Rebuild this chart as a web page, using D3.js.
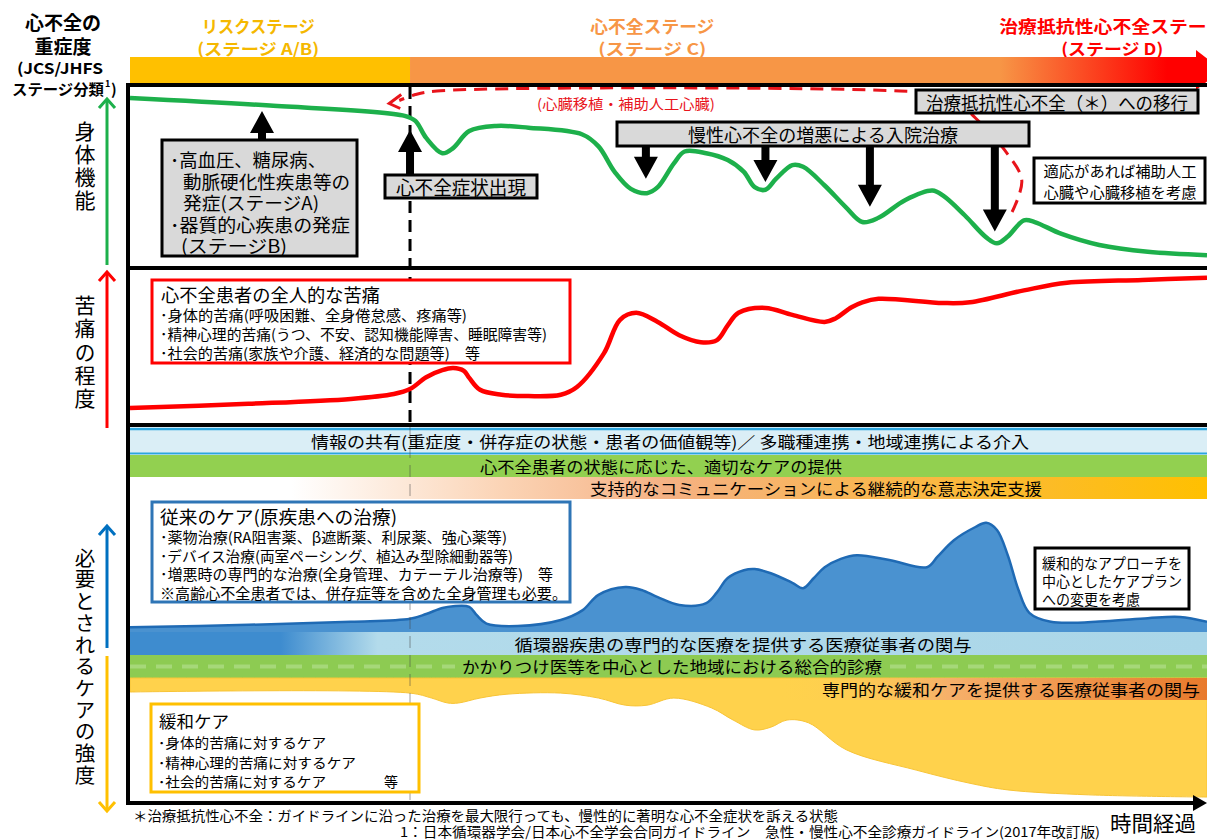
<!DOCTYPE html>
<html>
<head>
<meta charset="utf-8">
<title>心不全とそのリスクの進展ステージ</title>
<style>
  body { margin: 0; background: #fff; }
  svg text { font-family: "Noto Sans CJK JP", "Noto Sans", sans-serif; }
</style>
</head>
<body>
<script src="https://cdn.jsdelivr.net/npm/d3@7"></script>
<script>
// ---- data (time axis 0-100, each panel's level 0-100) ----
var physT = [0,13,25.5,26.5,27.5,29,30,31.5,34,37,42,43.5,45,46.5,48,49,50.5,51.5,53.5,55.5,57,58,59,60,61.5,62.5,64.5,66.5,68,69.5,72,74.5,75.5,77.5,79.5,80.5,81.5,83,84,86.5,90,94.5,100];
var physV = [96.5,92,86,83,73,64,67,77,80,79,75,68,53,43,40.5,44,58,65,64,60,53,44,42.5,49,57,56,45,32,23.5,26,36.5,42,39,27.5,14.5,11,15,24.5,23.5,16.5,10,6,4];

var painT = [0,11,20.5,24.5,26,27.5,29,30,31,31.5,32.5,34.5,37,40,41.5,44,45.5,47,49,51,53,54.5,55.5,56.5,59,61.5,64.5,65.5,67,68,69.5,75.5,78,83,87,94,100];
var painV = [5,8,11.5,15,18.5,27,32,33.5,31.5,26.5,18,14.5,13.5,14.5,20,44,68,73,66.5,57,52,53.5,64,73,76.5,71.5,66.5,69,77,80.5,83,80,80.5,89,94.5,96.5,98];

var careT = [0,11,20.5,26,27.5,29,30,31.5,32.2,33.1,36,40,42,43.5,46,47.5,49,51,53.5,54.5,55.5,57,58,59.5,61.5,62.5,63.5,64.5,66,67.5,70.5,74,75,76.5,78.5,79.5,80.5,81.5,82.5,83.5,85.5,90.5,94.5,97.5,100];
var careV = [4,6,8.5,11,15,20,21.5,21,14,7,5,10,18,31,37.5,35,29,22.5,24,33,45,51.5,52.5,49,41,36.5,45,54,61,64,60,54,63,76.5,87.5,91,85,64,35,16,8.5,9,11.5,12.5,8.5];

var palT = [0,26,28,29.5,30.5,32.5,35,40,43.5,46,48,50.5,54,56,58,59.5,61,63,66.5,73,78,81.5,89,100];
var palV = [0,1,5.5,10,10,5.5,2,1,5.5,12,12,5.5,14.5,25.5,34.5,32,25.5,28,52.5,71,83,89,93.5,95.5];

var stageNames = ["リスクステージ", "心不全ステージ", "治療抵抗性心不全ステージ"];
var stageSubs = ["(ステージ A/B)", "(ステージ C)", "(ステージ D)"];
var stageLabelT = [11.9, 48.5, 91.2];
var stageColors = ["#F5B800", "#F79646", "#FF0000"];
var onsetT = 26;   // 心不全症状出現

var hospT = [47.9, 59, 68.7, 80.3];      // 入院治療
var hospTip = [49, 47, 32.5, 18];

var transT = [81.9, 82.8, 81.2, 78.5, 76.1, 71.5, 28.5, 26.5, 25];
var transV = [29.4, 48.2, 65.9, 84.7, 97.6, 100.6, 100.6, 98.5, 95];

// ---- setup ----
var W = 1207, H = 840;
var svg = d3.select("body").append("svg").attr("width", W).attr("height", H);
var defs = svg.append("defs");

var x = d3.scaleLinear().domain([0, 100]).range([130, 1207]);
var yPhys = d3.scaleLinear().domain([0, 100]).range([262, 92]);
var yPain = d3.scaleLinear().domain([0, 100]).range([415, 275]);
var yCare = d3.scaleLinear().domain([0, 100]).range([632, 512]);
var yPal = d3.scaleLinear().domain([0, 100]).range([692, 802]);

function zip(a, b) { return a.map(function (d, i) { return [d, b[i]]; }); }

function txt(px, py, s, size, o) {
  o = o || {};
  var t = svg.append("text")
    .attr("x", px).attr("y", py)
    .attr("dominant-baseline", "central")
    .attr("font-size", size)
    .attr("fill", o.fill || "#000")
    .attr("font-weight", o.bold ? "bold" : "normal")
    .attr("text-anchor", o.anchor || "start")
    .text(s);
  if (o.len) t.attr("textLength", o.len).attr("lengthAdjust", "spacingAndGlyphs");
  return t;
}

function grad(id, x1, x2, stops) {
  var g = defs.append("linearGradient").attr("id", id)
    .attr("gradientUnits", "userSpaceOnUse")
    .attr("x1", x1).attr("x2", x2).attr("y1", 0).attr("y2", 0);
  stops.forEach(function (s) {
    g.append("stop").attr("offset", s[0]).attr("stop-color", s[1])
      .attr("stop-opacity", s[2] == null ? 1 : s[2]);
  });
}

function blockArrow(xc, yFrom, yTip) {
  var dir = yTip < yFrom ? -1 : 1;
  var hl = 22, hw = 12, sw = 4;
  var yb = yTip - dir * hl;
  var pts = [[xc - sw, yFrom], [xc - sw, yb], [xc - hw, yb], [xc, yTip], [xc + hw, yb], [xc + sw, yb], [xc + sw, yFrom]];
  svg.append("path").attr("d", d3.line()(pts) + "Z").attr("fill", "#000");
}

function sideArrow(yFrom, yTip, color) {
  var dir = yTip < yFrom ? -1 : 1;
  svg.append("line").attr("x1", 107).attr("x2", 107).attr("y1", yFrom).attr("y2", yTip)
    .attr("stroke", color).attr("stroke-width", 3);
  svg.append("path")
    .attr("d", "M" + 99 + "," + (yTip - dir * 9) + "L107," + yTip + "L115," + (yTip - dir * 9))
    .attr("fill", "none").attr("stroke", color).attr("stroke-width", 3);
}

function rectBox(x0, y0, w, h, fill, stroke, sw) {
  svg.append("rect").attr("x", x0).attr("y", y0).attr("width", w).attr("height", h)
    .attr("fill", fill).attr("stroke", stroke).attr("stroke-width", sw);
}

// ---- header ----
txt(63, 21, "心不全の", 19, { bold: true, anchor: "middle" });
txt(63, 45, "重症度", 19, { bold: true, anchor: "middle" });
txt(60, 67, "(JCS/JHFS", 15, { bold: true, anchor: "middle", len: 86 });
txt(12, 88, "ステージ分類", 15, { bold: true, len: 92 });
txt(105, 83, "1", 9, { bold: true });
txt(111, 88, ")", 15, { bold: true });

var stageLen = [113, 124, 226], subLen = [122, 108, 102];
stageNames.forEach(function (s, i) {
  txt(x(stageLabelT[i]), 25, s, 17, { bold: true, anchor: "middle", fill: stageColors[i], len: stageLen[i] });
  txt(x(stageLabelT[i]), 48, stageSubs[i], 16, { bold: true, anchor: "middle", fill: stageColors[i], len: subLen[i] });
});

// stage bar
grad("stageGrad", x(onsetT), 1207, [[0, "#F79646"], [0.74, "#F79646"], [0.95, "#FF0000"], [1, "#FF0000"]]);
svg.append("rect").attr("x", x(0)).attr("y", 57).attr("width", x(onsetT) - x(0)).attr("height", 26).attr("fill", "#FFC000");
svg.append("rect").attr("x", x(onsetT)).attr("y", 57).attr("width", 1197 - x(onsetT)).attr("height", 26).attr("fill", "url(#stageGrad)");
svg.append("path").attr("d", "M1196,50L1222,70L1196,90Z").attr("fill", "#FF0000");

// ---- panel 3 bands (drawn first) ----
svg.append("rect").attr("x", 130).attr("y", 428).attr("width", 1077).attr("height", 26).attr("fill", "#DAEEF6");
svg.append("line").attr("x1", 130).attr("x2", 1207).attr("y1", 429).attr("y2", 429).attr("stroke", "#2CA6DF").attr("stroke-width", 2.5);
svg.append("line").attr("x1", 130).attr("x2", 1207).attr("y1", 453.5).attr("y2", 453.5).attr("stroke", "#2CA6DF").attr("stroke-width", 2);
svg.append("rect").attr("x", 130).attr("y", 455).attr("width", 1077).attr("height", 22).attr("fill", "#92D050");
grad("commGrad", 130, 1207, [[0, "#FFFFFF"], [0.15, "#FFFFFF"], [0.35, "#FBD3B4"], [0.5, "#F5B183"], [1, "#FFC000"]]);
svg.append("rect").attr("x", 130).attr("y", 477).attr("width", 1077).attr("height", 22).attr("fill", "url(#commGrad)");

// blue care area
svg.append("path").datum(zip(careT, careV))
  .attr("d", d3.area().x(function (d) { return x(d[0]); }).y0(yCare(0)).y1(function (d) { return yCare(d[1]); }).curve(d3.curveCatmullRom)).attr("fill", "#4A92D0");
svg.append("path").datum(zip(careT, careV))
  .attr("d", d3.line().x(function (d) { return x(d[0]); }).y(function (d) { return yCare(d[1]); }).curve(d3.curveCatmullRom))
  .attr("fill", "none").attr("stroke", "#1F6AB4").attr("stroke-width", 2.5);

grad("cardioGrad", 130, 1207, [[0, "#3E8CCF"], [0.14, "#3E8CCF"], [0.23, "#B3DBEB"], [1, "#AAD6E8"]]);
svg.append("rect").attr("x", 130).attr("y", 632).attr("width", 1077).attr("height", 23).attr("fill", "url(#cardioGrad)");
svg.append("rect").attr("x", 130).attr("y", 655).attr("width", 1077).attr("height", 23).attr("fill", "#8DCB52");
[[130, 455], [890, 1207]].forEach(function (s) {
  svg.append("line").attr("x1", s[0]).attr("x2", s[1]).attr("y1", 666.5).attr("y2", 666.5)
    .attr("stroke", "#A6D879").attr("stroke-width", 4).attr("stroke-dasharray", "16,10");
});

// yellow palliative area
svg.append("path").datum(zip(palT, palV))
  .attr("d", d3.area().x(function (d) { return x(d[0]); }).y0(678).y1(function (d) { return yPal(d[1]); }).curve(d3.curveCatmullRom))
  .attr("fill", "#FFD24C").attr("stroke", "#F8C436").attr("stroke-width", 1);
grad("palGrad", 130, 1207, [[0, "#FFD24C", 0], [0.6, "#FFD24C", 0], [0.76, "#F6B06A", 1], [1, "#E87A2C", 1]]);
svg.append("rect").attr("x", 130).attr("y", 678).attr("width", 1077).attr("height", 22).attr("fill", "url(#palGrad)");

// onset dashed line
svg.append("line").attr("x1", x(onsetT)).attr("x2", x(onsetT)).attr("y1", 427).attr("y2", 803)
  .attr("stroke", "#444").attr("stroke-opacity", 0.35).attr("stroke-width", 1.5).attr("stroke-dasharray", "12,7");
svg.append("line").attr("x1", x(onsetT)).attr("x2", x(onsetT)).attr("y1", 87).attr("y2", 425)
  .attr("stroke", "#000").attr("stroke-width", 3).attr("stroke-dasharray", "12,7");

// band texts
txt(670, 441, "情報の共有(重症度・併存症の状態・患者の価値観等)／ 多職種連携・地域連携による介入", 16, { anchor: "middle", len: 718 });
txt(661, 466, "心不全患者の状態に応じた、適切なケアの提供", 16, { anchor: "middle", len: 362 });
txt(816, 488, "支持的なコミュニケーションによる継続的な意志決定支援", 16, { anchor: "middle", len: 452 });
txt(743, 644, "循環器疾患の専門的な医療を提供する医療従事者の関与", 16, { anchor: "middle", len: 457 });
txt(672, 666, "かかりつけ医等を中心とした地域における総合的診療", 16, { anchor: "middle", len: 420 });
txt(1200, 689, "専門的な緩和ケアを提供する医療従事者の関与", 16, { anchor: "end", len: 378 });

// ---- panel 1: physical function ----
svg.append("path").datum(zip(physT, physV))
  .attr("d", d3.line().x(function (d) { return x(d[0]); }).y(function (d) { return yPhys(d[1]); }).curve(d3.curveCatmullRom))
  .attr("fill", "none").attr("stroke", "#1DB04B").attr("stroke-width", 4.5);

// transition to refractory HF (red dashed)
var tp = zip(transT, transV).map(function (d) { return [x(d[0]), yPhys(d[1])]; });
svg.append("path").attr("d", d3.line().curve(d3.curveCatmullRom)(tp))
  .attr("fill", "none").attr("stroke", "#E8141B").attr("stroke-width", 3).attr("stroke-dasharray", "13,8");
var last = tp[tp.length - 1];
svg.append("path").attr("d", "M" + (last[0] + 2) + "," + (last[1] - 6) + "L" + (last[0] - 10) + "," + (last[1] + 3) + "L" + (last[0] + 1) + "," + (last[1] + 8))
  .attr("fill", "none").attr("stroke", "#E8141B").attr("stroke-width", 3);
txt(626, 103, "(心臓移植・補助人工心臓)", 14, { anchor: "middle", fill: "#E8141B", len: 178 });

// risk box + arrow
blockArrow(262, 141, 111);
rectBox(162, 140, 195, 116, "#D9D9D9", "#000", 3);
txt(170, 159, "･高血圧、糖尿病、", 18, { len: 156 });
txt(183, 180.5, "動脈硬化性疾患等の", 18, { len: 167 });
txt(183, 202, "発症(ステージA)", 18, { len: 136 });
txt(170, 223.5, "･器質的心疾患の発症", 18, { len: 180 });
txt(181, 245, "(ステージB)", 18, { len: 106 });

// onset box + arrow
blockArrow(x(onsetT), 175, 130);
rectBox(385, 175, 152, 23, "#D9D9D9", "#000", 3);
txt(461, 186.5, "心不全症状出現", 19, { anchor: "middle", len: 130 });

// refractory transition box
rectBox(916, 90, 282, 23, "#D9D9D9", "#000", 3);
txt(1057, 101.5, "治療抵抗性心不全（＊）への移行", 18, { anchor: "middle", len: 262 });

// hospitalization box + arrows
hospT.forEach(function (t, i) { blockArrow(x(t), 146, yPhys(hospTip[i])); });
rectBox(617, 122, 412, 24, "#D9D9D9", "#000", 3);
txt(823, 134, "慢性心不全の増悪による入院治療", 18, { anchor: "middle", len: 270 });

rectBox(1034, 158, 171, 45, "#FFFFFF", "#000", 3);
txt(1120, 170, "適応があれば補助人工", 14.5, { anchor: "middle", len: 153 });
txt(1120, 191, "心臓や心臓移植を考慮", 14.5, { anchor: "middle", len: 153 });

// ---- panel 2: suffering ----
svg.append("path").datum(zip(painT, painV))
  .attr("d", d3.line().x(function (d) { return x(d[0]); }).y(function (d) { return yPain(d[1]); }).curve(d3.curveCatmullRom))
  .attr("fill", "none").attr("stroke", "#FF0000").attr("stroke-width", 4.5);
rectBox(152, 280, 418, 83, "#FFFFFF", "#FF0000", 3);
txt(161, 294, "心不全患者の全人的な苦痛", 18, { len: 219 });
txt(160, 314, "･身体的苦痛(呼吸困難、全身倦怠感、疼痛等)", 14.5, { len: 307 });
txt(160, 333, "･精神心理的苦痛(うつ、不安、認知機能障害、睡眠障害等)", 14.5, { len: 387 });
txt(160, 352, "･社会的苦痛(家族や介護、経済的な問題等)　等", 14.5, { len: 320 });

// ---- panel 3 boxes ----
rectBox(152, 502, 418, 100, "#FFFFFF", "#2E75B6", 3);
txt(160, 516, "従来のケア(原疾患への治療)", 18, { len: 237 });
txt(160, 536, "･薬物治療(RA阻害薬、β遮断薬、利尿薬、強心薬等)", 14.5, { len: 347 });
txt(160, 555, "･デバイス治療(両室ペーシング、植込み型除細動器等)", 14.5, { len: 353 });
txt(160, 573, "･増悪時の専門的な治療(全身管理、カテーテル治療等)　等", 14.5, { len: 393 });
txt(160, 592, "※高齢心不全患者では、併存症等を含めた全身管理も必要。", 15, { len: 407 });

rectBox(1035, 548, 154, 61, "#FFFFFF", "#000", 3);
txt(1042, 562, "緩和的なアプローチを", 14.5, { len: 140 });
txt(1042, 580, "中心としたケアプラン", 14.5, { len: 140 });
txt(1042, 598, "への変更を考慮", 14.5, { len: 98 });

rectBox(151, 704, 268, 88, "#FFFFFF", "#FFC000", 3);
txt(159, 720, "緩和ケア", 17, { len: 70 });
txt(158, 742, "･身体的苦痛に対するケア", 14, { len: 168 });
txt(158, 762, "･精神心理的苦痛に対するケア", 14, { len: 198 });
txt(158, 781, "･社会的苦痛に対するケア", 14, { len: 168 });
txt(384, 781, "等", 14);

// ---- frame ----
svg.append("line").attr("x1", 126).attr("x2", 1207).attr("y1", 85).attr("y2", 85).attr("stroke", "#000").attr("stroke-width", 4);
svg.append("line").attr("x1", 126).attr("x2", 1207).attr("y1", 268).attr("y2", 268).attr("stroke", "#000").attr("stroke-width", 4);
svg.append("line").attr("x1", 126).attr("x2", 1207).attr("y1", 425).attr("y2", 425).attr("stroke", "#000").attr("stroke-width", 4);
svg.append("line").attr("x1", 128).attr("x2", 128).attr("y1", 83).attr("y2", 805).attr("stroke", "#000").attr("stroke-width", 4);
svg.append("line").attr("x1", 126).attr("x2", 1196).attr("y1", 803).attr("y2", 803).attr("stroke", "#000").attr("stroke-width", 4);
svg.append("path").attr("d", "M1193,795L1207,803L1193,811Z").attr("fill", "#000");

// ---- left axis labels (vertical text) ----
sideArrow(265, 99, "#1DB04B");
sideArrow(428, 272, "#FF0000");
sideArrow(648, 526, "#0070C0");
sideArrow(656, 811, "#FFC000");
function vtext(s, yCenter0, step, size) {
  svg.append("text")
    .attr("x", 85).attr("y", yCenter0 - size / 2)
    .style("writing-mode", "vertical-rl")
    .attr("font-size", size)
    .attr("letter-spacing", step - size)
    .text(s);
}
vtext("身体機能", 131, 23, 21);
vtext("苦痛の程度", 305, 23.3, 21);
vtext("必要とされるケアの強度", 558, 21.7, 20.5);

// ---- footnotes ----
txt(133, 815, "＊治療抵抗性心不全：ガイドラインに沿った治療を最大限行っても、慢性的に著明な心不全症状を訴える状態", 14, { len: 705 });
txt(400, 831, "1：日本循環器学会/日本心不全学会合同ガイドライン　急性・慢性心不全診療ガイドライン(2017年改訂版)", 13.5, { len: 700 });
txt(1110, 822, "時間経過", 21, { len: 86 });
</script>
</body>
</html>
